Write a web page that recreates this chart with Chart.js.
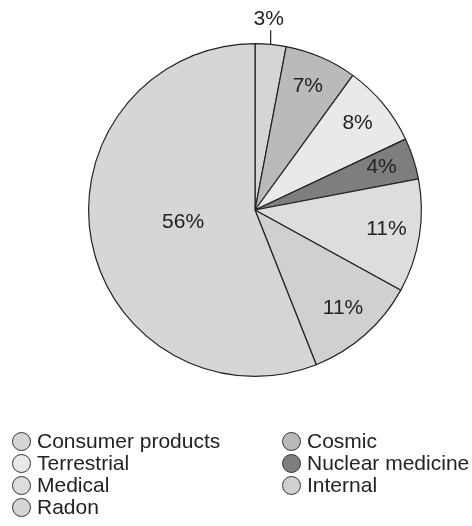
<!DOCTYPE html>
<html>
<head>
<meta charset="utf-8">
<script src="https://cdn.jsdelivr.net/npm/chart.js@4/dist/chart.umd.min.js"></script>
<style>
  html, body { margin: 0; padding: 0; background: #fff; }
  #wrap { position: relative; width: 472px; height: 526px; }
  #legend {
    position: absolute; left: 12px; top: 430px;
    display: grid; grid-template-columns: 270px 200px;
    font-family: "Liberation Sans", Arial, sans-serif; font-size: 21px; color: #222;
    line-height: 22px;
  }
  .item { display: flex; align-items: center; white-space: nowrap; }
  .dot { width: 19px; height: 19px; border-radius: 50%; border: 1.3px solid #333; margin-right: 6px; box-sizing: border-box; }
</style>
</head>
<body>
<div id="wrap">
  <canvas id="myChart" width="472" height="526"></canvas>
  <div id="legend"></div>
</div>
<script>
const categorias = ['Consumer products', 'Cosmic', 'Terrestrial', 'Nuclear medicine', 'Medical', 'Internal', 'Radon'];
const porcentajes = [3, 7, 8, 4, 11, 11, 56];
const colores = ['#d4d5d7', '#b9babc', '#e8e9ea', '#7d7e80', '#dcdddf', '#cfd0d2', '#d5d6d8'];

const etiquetas = {
    id: 'etiquetas',
    afterDatasetsDraw(chart) {
        const ctx = chart.ctx;
        const arcs = chart.getDatasetMeta(0).data;
        ctx.save();
        ctx.font = '21px "Liberation Sans", Arial, sans-serif';
        ctx.fillStyle = '#222';
        ctx.strokeStyle = '#222';
        ctx.textAlign = 'center';
        ctx.textBaseline = 'middle';
        arcs.forEach((arc, i) => {
            const p = arc.getProps(['x', 'y', 'startAngle', 'endAngle', 'outerRadius'], true);
            const mid = (p.startAngle + p.endAngle) / 2;
            const v = porcentajes[i];
            if (v <= 3) {
                // etiqueta fuera con linea
                const x0 = p.x + Math.cos(mid) * p.outerRadius;
                const y0 = p.y + Math.sin(mid) * p.outerRadius;
                ctx.lineWidth = 1.2;
                ctx.beginPath();
                ctx.moveTo(x0, y0);
                ctx.lineTo(x0, y0 - 14);
                ctx.stroke();
                ctx.fillText(v + '%', x0 - 2, y0 - 25);
            } else {
                const r = v > 50 ? p.outerRadius * 0.44 : p.outerRadius * 0.8;
                ctx.fillText(v + '%', p.x + Math.cos(mid) * r, p.y + Math.sin(mid) * r - 2);
            }
        });
        ctx.restore();
    }
};

const chart = new Chart(document.getElementById('myChart'), {
    type: 'pie',
    data: {
        labels: categorias,
        datasets: [{
            data: porcentajes,
            backgroundColor: colores,
            borderColor: '#222',
            borderWidth: 1.2
        }]
    },
    options: {
        responsive: false,
        animation: false,
        layout: { padding: { top: 43, bottom: 149, left: 88, right: 50 } },
        plugins: {
            legend: { display: false },
            tooltip: { enabled: false }
        }
    },
    plugins: [etiquetas]
});

const legendDiv = document.getElementById('legend');
for (let i = 0; i < categorias.length; i++) {
    const item = document.createElement('div');
    item.className = 'item';
    const dot = document.createElement('span');
    dot.className = 'dot';
    dot.style.background = colores[i];
    item.appendChild(dot);
    item.appendChild(document.createTextNode(categorias[i]));
    legendDiv.appendChild(item);
}
</script>
</body>
</html>
